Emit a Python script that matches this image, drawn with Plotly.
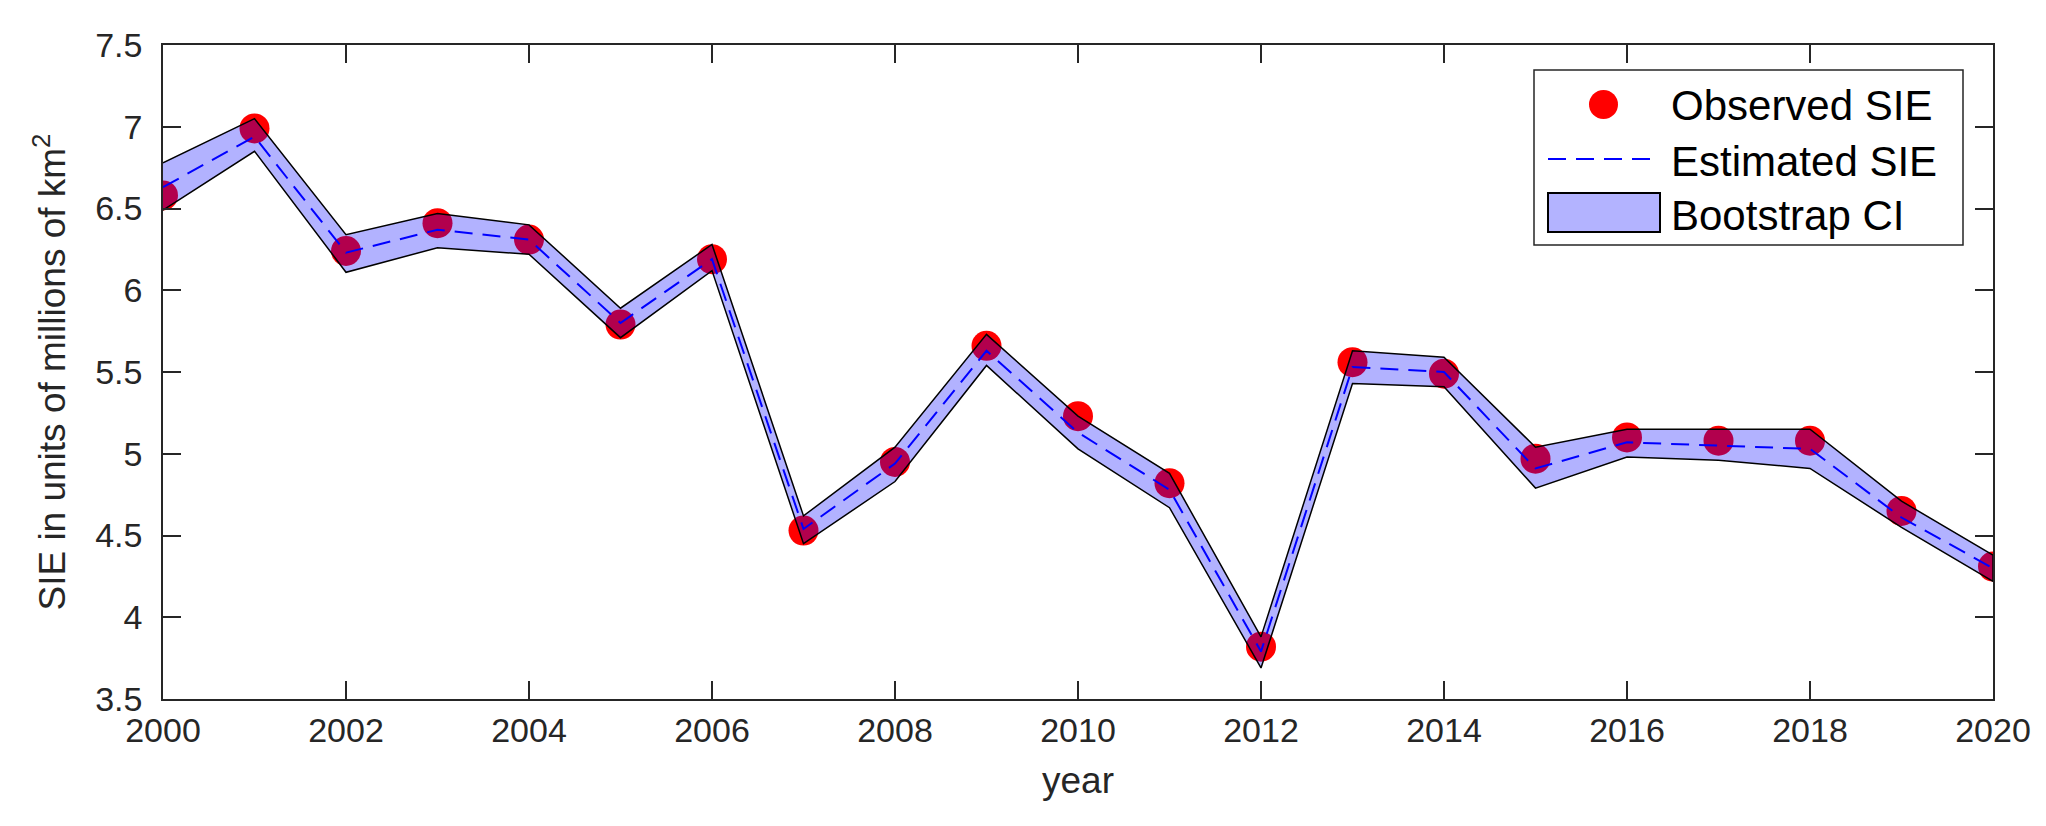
import plotly.graph_objects as go

years = list(range(2000, 2021))
observed = [6.58, 6.99, 6.24, 6.41, 6.31, 5.79, 6.19, 4.53, 4.95, 5.66, 5.23,
            4.82, 3.82, 5.56, 5.49, 4.97, 5.10, 5.08, 5.08, 4.65, 4.31]
estimated = [6.63, 6.94, 6.23, 6.37, 6.31, 5.80, 6.19, 4.54, 4.94, 5.63, 5.13,
             4.78, 3.79, 5.53, 5.50, 4.91, 5.07, 5.05, 5.03, 4.61, 4.30]
ci_upper = [6.78, 7.05, 6.34, 6.47, 6.40, 5.89, 6.28, 4.62, 5.04, 5.73, 5.23,
            4.88, 3.88, 5.63, 5.59, 5.04, 5.15, 5.15, 5.15, 4.71, 4.38]
ci_lower = [6.49, 6.85, 6.11, 6.26, 6.22, 5.71, 6.12, 4.45, 4.83, 5.54, 5.03,
            4.67, 3.69, 5.43, 5.41, 4.79, 4.98, 4.96, 4.91, 4.55, 4.22]

x_ticks = list(range(2000, 2021, 2))
y_tickvals = [3.5, 4, 4.5, 5, 5.5, 6, 6.5, 7, 7.5]
y_ticktext = ["3.5", "4", "4.5", "5", "5.5", "6", "6.5", "7", "7.5"]
legend_labels = ["Observed SIE", "Estimated SIE", "Bootstrap CI"]

FONT = "Liberation Sans, Arial, Helvetica, sans-serif"
AX = "#262626"
RED = "#FF0000"
BLUE = "#0000FF"
BAND = "rgba(0,0,255,0.3)"
DASH = "18px,10px"

W, H = 2046, 826
ML, MR, MT, MB = 155, 61, 37, 135
PW, PH = W - ML - MR, H - MT - MB


def px(x):
    return (x - ML) / PW


def py(y):
    return (H - MB - y) / PH


fig = go.Figure()

fig.add_trace(go.Scatter(
    x=years, y=observed, mode="markers", name=legend_labels[0],
    marker=dict(color=RED, size=30, line=dict(width=0)),
))

fig.add_trace(go.Scatter(
    x=years + years[::-1], y=ci_upper + ci_lower[::-1],
    mode="lines", fill="toself", name=legend_labels[2],
    fillcolor=BAND, line=dict(color="black", width=1.5),
))

fig.add_trace(go.Scatter(
    x=years, y=estimated, mode="lines", name=legend_labels[1],
    line=dict(color=BLUE, width=2, dash=DASH),
))

# Custom legend (MATLAB-style) in paper coordinates
shapes = [
    dict(type="rect", xref="paper", yref="paper",
         x0=px(1526), x1=px(1955), y0=py(237), y1=py(62),
         fillcolor="white", line=dict(color=AX, width=1.5), layer="above"),
    dict(type="circle", xref="paper", yref="paper",
         x0=px(1581), x1=px(1610), y0=py(111), y1=py(82),
         fillcolor=RED, line=dict(width=0), layer="above"),
    dict(type="line", xref="paper", yref="paper",
         x0=px(1540), x1=px(1643), y0=py(151), y1=py(151),
         line=dict(color=BLUE, width=2, dash=DASH), layer="above"),
    dict(type="rect", xref="paper", yref="paper",
         x0=px(1540), x1=px(1652), y0=py(224), y1=py(185),
         fillcolor="rgb(179,179,255)", line=dict(color="black", width=2),
         layer="above"),
]
annotations = []
for label, yc in zip(legend_labels, [96, 151, 205]):
    annotations.append(dict(
        text=label, xref="paper", yref="paper",
        x=px(1661), y=py(yc + 2), xanchor="left", yanchor="middle",
        showarrow=False, font=dict(size=42, color="black", family=FONT),
    ))

fig.update_layout(
    width=W, height=H,
    margin=dict(l=ML, r=MR, t=MT, b=MB),
    paper_bgcolor="white", plot_bgcolor="white",
    font=dict(family=FONT, color=AX),
    showlegend=False,
    shapes=shapes,
    annotations=annotations,
)

fig.update_xaxes(
    range=[2000, 2020], tickvals=x_ticks,
    ticks="inside", ticklen=18, tickwidth=1.5, tickcolor=AX,
    showline=True, linecolor=AX, linewidth=1.5, mirror="ticks",
    showgrid=False, zeroline=False,
    tickfont=dict(size=34, color=AX, family=FONT),
    title=dict(text="year", font=dict(size=37, color=AX, family=FONT), standoff=20),
)

fig.update_yaxes(
    range=[3.5, 7.5], tickvals=y_tickvals, ticktext=y_ticktext,
    ticks="inside", ticklen=18, tickwidth=1.5, tickcolor=AX,
    showline=True, linecolor=AX, linewidth=1.5, mirror="ticks",
    showgrid=False, zeroline=False,
    tickfont=dict(size=34, color=AX, family=FONT),
    ticklabelstandoff=12,
    title=dict(text="SIE in units of millions of km<sup>2</sup>",
               font=dict(size=37, color=AX, family=FONT), standoff=18),
)

fig.write_html("out.html")
